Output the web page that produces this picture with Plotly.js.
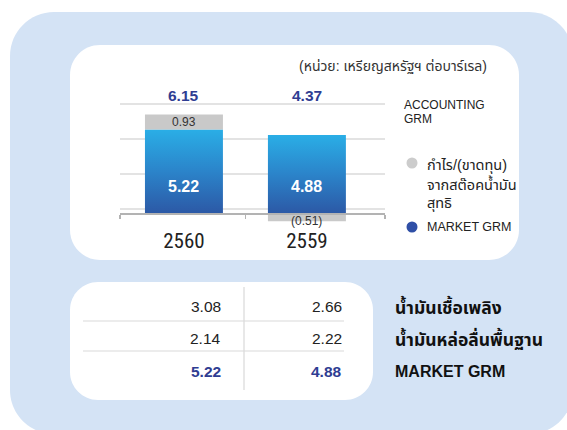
<!DOCTYPE html>
<html><head><meta charset="utf-8">
<script src="https://cdn.plot.ly/plotly-3.0.1.min.js"></script>
<style>html,body{margin:0;padding:0;background:#fff;} #chart{width:567px;height:430px;}</style>
</head><body><div id="chart"></div>
<script>
// ---- data ----
const categories = ['2560', '2559'];
const marketGRM = [5.22, 4.88];
const stockGainLoss = [0.93, -0.51];
const accountingGRM = [6.15, 4.37];
const tableRowLabels = ['น้ำมันเชื้อเพลิง', 'น้ำมันหล่อลื่นพื้นฐาน', 'MARKET GRM'];
const table2560 = [3.08, 2.14, 5.22];
const table2559 = [2.66, 2.22, 4.88];
const unitText = '(หน่วย: เหรียญสหรัฐฯ ต่อบาร์เรล)';
const legendTitleLines = ['ACCOUNTING', 'GRM'];
const legendStockLines = ['กำไร/(ขาดทุน)', 'จากสต๊อคน้ำมัน', 'สุทธิ'];
const legendMarket = 'MARKET GRM';

// ---- layout helpers (pixel -> paper) ----
const W = 567, H = 430, L = 120, R = 385, T = 95, B = 225;
const px = x => (x - L) / (R - L);
const py = y => (B - y) / (B - T);
const PPU = 16; // pixels per unit
const BASE = 213; // pixel row of zero

const FONT = 'Liberation Sans, Arial, Noto Sans Thai, Loma, Garuda, sans-serif';
const NARROW = 'Liberation Sans Narrow, Arial Narrow, Roboto Condensed, DejaVu Sans Condensed, sans-serif';
const BLUE_TXT = '#2f3d92';

function roundRect(x0, y0, x1, y1, r) {
  const k = 0.5523 * r;
  const P = (x, y) => px(x).toFixed(5) + ',' + py(y).toFixed(5);
  return 'M' + P(x0 + r, y0) + ' L' + P(x1 - r, y0) +
    ' C' + P(x1 - r + k, y0) + ' ' + P(x1, y0 + r - k) + ' ' + P(x1, y0 + r) +
    ' L' + P(x1, y1 - r) +
    ' C' + P(x1, y1 - r + k) + ' ' + P(x1 - r + k, y1) + ' ' + P(x1 - r, y1) +
    ' L' + P(x0 + r, y1) +
    ' C' + P(x0 + r - k, y1) + ' ' + P(x0, y1 - r + k) + ' ' + P(x0, y1 - r) +
    ' L' + P(x0, y0 + r) +
    ' C' + P(x0, y0 + r - k) + ' ' + P(x0 + r - k, y0) + ' ' + P(x0 + r, y0) + ' Z';
}
const fmt = v => v < 0 ? '(' + Math.abs(v).toFixed(2) + ')' : v.toFixed(2);
const xs = categories.map((c, i) => i);

const traces = [
  {type: 'bar', x: xs, y: marketGRM, width: 0.634, name: 'MARKET GRM',
   marker: {color: '#2b83c9', line: {width: 0}}, hoverinfo: 'skip', showlegend: false},
  {type: 'bar', x: xs, y: stockGainLoss, width: 0.634, name: 'stock',
   marker: {color: '#c9c9c9', line: {width: 0}}, hoverinfo: 'skip', showlegend: false}
];

const shapes = [
  {type: 'path', xref: 'paper', yref: 'paper', layer: 'below', path: roundRect(10, 12, 573, 434, 44), fillcolor: '#d4e3f5', line: {width: 0}},
  {type: 'path', xref: 'paper', yref: 'paper', layer: 'below', path: roundRect(70, 45, 519, 260, 30), fillcolor: '#ffffff', line: {width: 0}},
  {type: 'path', xref: 'paper', yref: 'paper', layer: 'below', path: roundRect(70, 282, 373, 400, 28), fillcolor: '#ffffff', line: {width: 0}},
  // table rules
  {type: 'line', xref: 'paper', yref: 'paper', x0: px(244), x1: px(244), y0: py(287), y1: py(390), line: {color: '#d9d9d9', width: 1.2}},
  {type: 'line', xref: 'paper', yref: 'paper', x0: px(83), x1: px(344), y0: py(321), y1: py(321), line: {color: '#d9d9d9', width: 1.2}},
  {type: 'line', xref: 'paper', yref: 'paper', x0: px(83), x1: px(344), y0: py(351), y1: py(351), line: {color: '#d9d9d9', width: 1.2}},
  // legend markers
  {type: 'circle', xref: 'paper', yref: 'paper', x0: px(406.5), x1: px(417.5), y0: py(157.5), y1: py(168.5), fillcolor: '#cccccc', line: {width: 0}},
  {type: 'circle', xref: 'paper', yref: 'paper', x0: px(406.5), x1: px(417.5), y0: py(221.5), y1: py(232.5), fillcolor: '#2f4fa6', line: {width: 0}}
];

const ann = [];
const A = (text, x, y, xanchor, size, color, extra) => ann.push(Object.assign({
  text: text, xref: 'paper', yref: 'paper', x: px(x), y: py(y), xanchor: xanchor, yanchor: 'middle',
  showarrow: false, font: {family: FONT, size: size, color: color}}, extra || {}));

A(unitText, 489, 66, 'right', 14, '#333');
legendTitleLines.forEach((t, i) => A(t, 402, 105 + i * 14, 'left', 12, '#222'));
legendStockLines.forEach((t, i) => A(t, 425, 165 + i * 19, 'left', 14.5, '#222'));
A(legendMarket, 425, 227, 'left', 12.5, '#222');

// totals (accounting GRM) above bars
accountingGRM.forEach((v, i) => ann.push({text: '<b>' + v.toFixed(2) + '</b>', xref: 'x', yref: 'paper', x: i, y: py(95),
  yanchor: 'middle', showarrow: false, font: {family: FONT, size: 15.5, color: BLUE_TXT}}));
// market values inside bars
marketGRM.forEach((v, i) => ann.push({text: '<b>' + v.toFixed(2) + '</b>', xref: 'x', yref: 'y', x: i, y: (BASE - 186) / PPU,
  yanchor: 'middle', showarrow: false, font: {family: FONT, size: 16, color: '#ffffff'}}));
// stock gain/loss labels
stockGainLoss.forEach((v, i) => ann.push({text: fmt(v), xref: 'x', yref: 'y', x: i,
  y: v >= 0 ? marketGRM[i] + v : v, yanchor: v >= 0 ? 'top' : 'middle', yshift: v >= 0 ? 2 : 0,
  showarrow: false, font: {family: FONT, size: 12, color: '#333'}}));

// table
table2560.forEach((v, i) => {
  const last = i === table2560.length - 1;
  const t = last ? '<b>' + v.toFixed(2) + '</b>' : v.toFixed(2);
  A(t, 223, 306 + i * 32.5, 'right', 15.5, last ? BLUE_TXT : '#222');
});
table2559.forEach((v, i) => {
  const last = i === table2559.length - 1;
  const t = last ? '<b>' + v.toFixed(2) + '</b>' : v.toFixed(2);
  A(t, 344, 306 + i * 32.5, 'right', 15.5, last ? BLUE_TXT : '#222');
});
tableRowLabels.forEach((t, i) => A('<b>' + t + '</b>', 393, 306 + i * 32.5, 'left', /^[A-Z ]+$/.test(t) ? 16 : 17.5, '#111'));

const layout = {
  width: W, height: H, margin: {l: L, r: W - R, t: T, b: H - B, pad: 0},
  paper_bgcolor: '#ffffff', plot_bgcolor: 'rgba(0,0,0,0)',
  barmode: 'relative', showlegend: false,
  font: {family: FONT},
  xaxis: {range: [-0.52, 1.635], tickvals: xs, ticktext: categories, ticks: '',
    anchor: 'free', position: py(BASE), showline: true, linecolor: '#b3b3b3', linewidth: 1.5,
    showgrid: false, zeroline: false, ticklabelstandoff: 8,
    tickfont: {family: NARROW, size: 21, color: '#222'},
    minor: {tickvals: [-0.52, 0.5, 1.635], ticks: 'outside', ticklen: 4, tickcolor: '#b3b3b3', tickwidth: 1.5, showgrid: false},
    fixedrange: true},
  yaxis: {range: [-(B - BASE) / PPU, (BASE - T) / PPU], tick0: (BASE - 174) / PPU, dtick: 35 / PPU,
    showticklabels: false, ticks: '', showgrid: true, gridcolor: '#e3e3e3', gridwidth: 1.8,
    zeroline: false, showline: false, fixedrange: true},
  shapes: shapes, annotations: ann
};

Plotly.newPlot('chart', traces, layout, {staticPlot: true, displayModeBar: false}).then(() => {
  const svg = document.querySelector('#chart .main-svg');
  const ns = 'http://www.w3.org/2000/svg';
  let defs = svg.querySelector('defs');
  if (!defs) { defs = document.createElementNS(ns, 'defs'); svg.insertBefore(defs, svg.firstChild); }
  const g = document.createElementNS(ns, 'linearGradient');
  g.setAttribute('id', 'blueGrad'); g.setAttribute('x1', '0'); g.setAttribute('y1', '0');
  g.setAttribute('x2', '0'); g.setAttribute('y2', '1');
  [['0', '#2aaee6'], ['0.5', '#2b84ca'], ['1', '#2c59a6']].forEach(s => {
    const st = document.createElementNS(ns, 'stop');
    st.setAttribute('offset', s[0]); st.setAttribute('stop-color', s[1]); g.appendChild(st);
  });
  defs.appendChild(g);
  const tr = document.querySelectorAll('#chart .barlayer .trace')[0];
  if (tr) tr.querySelectorAll('path').forEach(p => { p.style.fill = 'url(#blueGrad)'; });
});
</script></body></html>
